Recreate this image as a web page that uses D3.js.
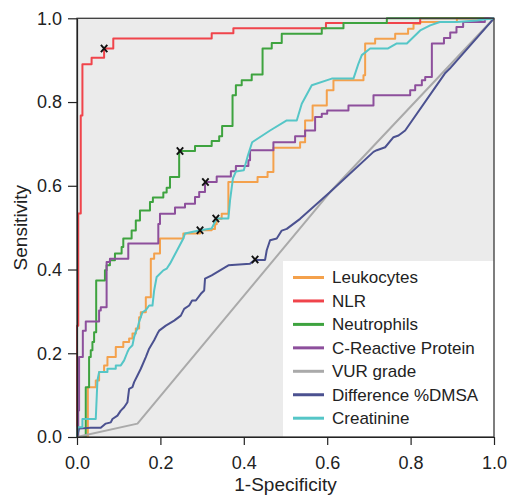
<!DOCTYPE html>
<html lang="en">
<head>
    <meta charset="UTF-8">
    <title>ROC curves</title>
    <script src="https://d3js.org/d3.v7.min.js"></script>
    <style>
        body {
            margin: 0;
            background: #fff;
        }
        svg {
            display: block;
            font-family: "Liberation Sans", Arial, sans-serif;
        }
        .axis text {
            font-size: 18px;
            fill: #222;
        }
        .axis line, .axis path {
            stroke: #222;
            stroke-width: 1.2px;
        }
        .roc {
            fill: none;
            stroke-width: 2px;
            stroke-linejoin: round;
        }
        .legend text {
            font-size: 17px;
            fill: #222;
        }
        .title {
            font-size: 19px;
            fill: #222;
        }
    </style>
</head>
<body>
<svg id="chart" width="509" height="496"></svg>
<script type="text/javascript">
    // ---- data ----
    var seriesNames = ["Leukocytes", "NLR", "Neutrophils", "C-Reactive Protein", "VUR grade", "Difference %DMSA", "Creatinine"];
    var seriesColors = ["#f4a14c", "#f0444b", "#3ea33f", "#8d4f9c", "#aaaaaa", "#4b5190", "#55c6c7"];
    var tickValues = [0, 0.2, 0.4, 0.6, 0.8, 1.0];

    var leukocytesFpr = [0, 0.026, 0.045, 0.053, 0.065, 0.073, 0.093, 0.111, 0.125, 0.133, 0.141, 0.149, 0.153, 0.165, 0.177, 0.185, 0.199, 0.255, 0.295, 0.323, 0.331, 0.335, 0.347, 0.363, 0.433, 0.457, 0.471, 0.535, 0.547, 0.565, 0.599, 0.615, 0.687, 0.691, 0.715, 0.763, 0.794, 0.807, 0.823, 0.911, 1];
    var leukocytesTpr = [0, 0.119, 0.135, 0.155, 0.171, 0.191, 0.215, 0.227, 0.235, 0.247, 0.259, 0.286, 0.298, 0.334, 0.426, 0.438, 0.474, 0.486, 0.494, 0.497, 0.508, 0.521, 0.533, 0.609, 0.621, 0.633, 0.691, 0.704, 0.756, 0.792, 0.828, 0.852, 0.864, 0.940, 0.951, 0.963, 0.975, 0.987, 0.991, 1, 1];

    var nlrFpr = [0, 0, 0.003, 0.009, 0.013, 0.035, 0.065, 0.087, 0.323, 0.375, 0.597, 0.823, 1];
    var nlrTpr = [0, 0.266, 0.534, 0.768, 0.890, 0.906, 0.928, 0.952, 0.964, 0.976, 0.989, 1, 1];

    var neutrophilsFpr = [0, 0.021, 0.029, 0.033, 0.037, 0.041, 0.046, 0.067, 0.071, 0.079, 0.091, 0.107, 0.111, 0.131, 0.141, 0.151, 0.175, 0.182, 0.207, 0.215, 0.223, 0.245, 0.283, 0.323, 0.341, 0.348, 0.373, 0.381, 0.395, 0.419, 0.445, 0.467, 0.491, 0.587, 0.639, 0.743, 1];
    var neutrophilsTpr = [0, 0.119, 0.191, 0.207, 0.227, 0.250, 0.374, 0.398, 0.410, 0.422, 0.438, 0.454, 0.474, 0.493, 0.517, 0.541, 0.561, 0.572, 0.584, 0.595, 0.621, 0.683, 0.695, 0.707, 0.718, 0.743, 0.816, 0.840, 0.852, 0.866, 0.928, 0.941, 0.963, 0.976, 0.989, 1, 1];

    var crpFpr = [0, 0.003, 0.005, 0.014, 0.021, 0.053, 0.057, 0.071, 0.079, 0.123, 0.195, 0.199, 0.235, 0.259, 0.283, 0.293, 0.307, 0.335, 0.369, 0.381, 0.411, 0.415, 0.471, 0.523, 0.547, 0.571, 0.587, 0.600, 0.651, 0.711, 0.799, 0.811, 0.827, 0.835, 0.851, 0.880, 0.895, 0.910, 0.926, 0.978, 1];
    var crpTpr = [0, 0.063, 0.191, 0.254, 0.276, 0.302, 0.310, 0.418, 0.426, 0.462, 0.509, 0.533, 0.548, 0.557, 0.573, 0.585, 0.609, 0.622, 0.635, 0.647, 0.661, 0.685, 0.704, 0.718, 0.732, 0.764, 0.772, 0.780, 0.792, 0.816, 0.828, 0.840, 0.852, 0.860, 0.940, 0.953, 0.966, 0.979, 0.991, 1, 1];

    var vurFpr = [0, 0.145, 0.607, 1];
    var vurTpr = [0, 0.032, 0.585, 1];

    var dmsaFpr = [0, 0.005, 0.033, 0.057, 0.069, 0.081, 0.085, 0.097, 0.105, 0.113, 0.121, 0.125, 0.133, 0.137, 0.145, 0.153, 0.165, 0.173, 0.185, 0.193, 0.197, 0.213, 0.233, 0.249, 0.257, 0.269, 0.276, 0.285, 0.297, 0.305, 0.307, 0.323, 0.363, 0.415, 0.427, 0.451, 0.455, 0.463, 0.479, 0.491, 0.503, 0.535, 0.607, 0.711, 0.719, 0.739, 0.759, 0.771, 0.787, 0.882, 0.894, 1];
    var dmsaTpr = [0, 0.020, 0.022, 0.022, 0.032, 0.035, 0.043, 0.051, 0.063, 0.071, 0.083, 0.115, 0.119, 0.131, 0.147, 0.163, 0.191, 0.211, 0.231, 0.247, 0.254, 0.266, 0.278, 0.290, 0.306, 0.314, 0.326, 0.326, 0.342, 0.350, 0.378, 0.386, 0.410, 0.414, 0.423, 0.423, 0.446, 0.470, 0.474, 0.493, 0.497, 0.521, 0.585, 0.681, 0.685, 0.692, 0.716, 0.720, 0.732, 0.868, 0.880, 1];

    var creatinineFpr = [0, 0.001, 0.013, 0.013, 0.045, 0.049, 0.053, 0.073, 0.073, 0.093, 0.093, 0.105, 0.113, 0.121, 0.125, 0.133, 0.137, 0.141, 0.145, 0.149, 0.157, 0.165, 0.173, 0.181, 0.185, 0.191, 0.207, 0.215, 0.223, 0.255, 0.259, 0.295, 0.323, 0.335, 0.363, 0.367, 0.374, 0.381, 0.400, 0.410, 0.420, 0.463, 0.503, 0.527, 0.539, 0.563, 0.611, 0.663, 0.675, 0.683, 0.703, 0.746, 0.767, 0.791, 0.823, 0.847, 0.870, 0.911, 0.959, 1];
    var creatinineTpr = [0, 0.023, 0.023, 0.043, 0.043, 0.135, 0.155, 0.155, 0.163, 0.163, 0.171, 0.171, 0.183, 0.203, 0.211, 0.219, 0.239, 0.251, 0.259, 0.275, 0.298, 0.303, 0.314, 0.314, 0.350, 0.382, 0.398, 0.402, 0.414, 0.474, 0.486, 0.494, 0.498, 0.522, 0.522, 0.565, 0.618, 0.634, 0.637, 0.673, 0.704, 0.732, 0.756, 0.756, 0.796, 0.840, 0.856, 0.856, 0.892, 0.912, 0.928, 0.928, 0.940, 0.940, 0.971, 0.983, 0.991, 0.991, 0.995, 1];

    // cut-off points marked with an x (same order as seriesNames, VUR grade has none)
    var markerFpr = [0.295, 0.065, 0.247, 0.308, 0.427, 0.333];
    var markerTpr = [0.494, 0.928, 0.683, 0.609, 0.424, 0.522];

    var configuration = {
        "left": 77,
        "right": 494,
        "top": 18.3,
        "bottom": 437,
        "legend_left": 283,
        "legend_top": 261,
        "legend_row": 23.45,
        "legend_first_row": 277.5,
        "legend_line_x1": 293,
        "legend_line_x2": 324,
        "legend_text_x": 332,
        "plot_bg": "#ebebeb"
    };

    var series = [
        {fpr: leukocytesFpr, tpr: leukocytesTpr, step: true},
        {fpr: nlrFpr, tpr: nlrTpr, step: true},
        {fpr: neutrophilsFpr, tpr: neutrophilsTpr, step: true},
        {fpr: crpFpr, tpr: crpTpr, step: true},
        {fpr: vurFpr, tpr: vurTpr, step: false},
        {fpr: dmsaFpr, tpr: dmsaTpr, step: false},
        {fpr: creatinineFpr, tpr: creatinineTpr, step: false}
    ];

    var svg = d3.select("#chart");

    var xScale = d3.scaleLinear().domain([0, 1]).range([configuration.left, configuration.right]);
    var yScale = d3.scaleLinear().domain([0, 1]).range([configuration.bottom, configuration.top]);

    //plot background
    svg.append("rect")
        .attr("x", xScale(0))
        .attr("y", yScale(1))
        .attr("width", xScale(1) - xScale(0))
        .attr("height", yScale(0) - yScale(1))
        .attr("fill", configuration.plot_bg);

    //curves
    series.forEach(function (s, i) {
        var pts = s.fpr.map(function (f, j) { return [f, s.tpr[j]]; });
        var line = d3.line()
            .x(function (d) { return xScale(d[0]); })
            .y(function (d) { return yScale(d[1]); })
            .curve(s.step ? d3.curveStepAfter : d3.curveLinear);
        svg.append("path")
            .datum(pts)
            .attr("class", "roc")
            .attr("stroke", seriesColors[i])
            .attr("d", line);
    });

    //cut-off markers
    svg.selectAll("path.marker")
        .data(markerFpr)
        .enter()
        .append("path")
        .attr("class", "marker")
        .attr("d", "M-3.2,-3.6L3.2,3.6M-3.2,3.6L3.2,-3.6")
        .attr("transform", function (d, i) {
            return "translate(" + xScale(d) + "," + yScale(markerTpr[i]) + ")";
        })
        .attr("stroke", "#111")
        .attr("stroke-width", 1.9)
        .attr("fill", "none");

    //legend
    var legend = svg.append("g").attr("class", "legend");
    legend.append("rect")
        .attr("x", configuration.legend_left)
        .attr("y", configuration.legend_top)
        .attr("width", xScale(1) - configuration.legend_left)
        .attr("height", yScale(0) - configuration.legend_top)
        .attr("fill", "#fff");

    seriesNames.forEach(function (name, i) {
        var cy = configuration.legend_first_row + i * configuration.legend_row;
        legend.append("line")
            .attr("x1", configuration.legend_line_x1)
            .attr("x2", configuration.legend_line_x2)
            .attr("y1", cy)
            .attr("y2", cy)
            .attr("stroke", seriesColors[i])
            .attr("stroke-width", 3);
        legend.append("text")
            .attr("x", configuration.legend_text_x)
            .attr("y", cy)
            .attr("dy", "0.35em")
            .text(name);
    });

    //frame (top and right)
    svg.append("rect")
        .attr("x", xScale(0))
        .attr("y", yScale(1))
        .attr("width", xScale(1) - xScale(0))
        .attr("height", yScale(0) - yScale(1))
        .attr("fill", "none")
        .attr("stroke", "#3a3a3a")
        .attr("stroke-width", 1.3);

    //axes
    svg.append("g")
        .attr("class", "axis")
        .attr("transform", "translate(0," + yScale(0) + ")")
        .call(d3.axisBottom(xScale).tickValues(tickValues).tickFormat(d3.format(".1f"))
            .tickSize(8).tickSizeOuter(0).tickPadding(11));

    svg.append("g")
        .attr("class", "axis")
        .attr("transform", "translate(" + xScale(0) + ",0)")
        .call(d3.axisLeft(yScale).tickValues(tickValues).tickFormat(d3.format(".1f"))
            .tickSize(9).tickSizeOuter(0).tickPadding(6));

    //axis titles
    svg.append("text")
        .attr("class", "title")
        .attr("x", (xScale(0) + xScale(1)) / 2)
        .attr("y", 491)
        .attr("text-anchor", "middle")
        .text("1-Specificity");

    svg.append("text")
        .attr("class", "title")
        .attr("transform", "translate(27," + (yScale(0) + yScale(1)) / 2 + ") rotate(-90)")
        .attr("text-anchor", "middle")
        .text("Sensitivity");
</script>
</body>
</html>
